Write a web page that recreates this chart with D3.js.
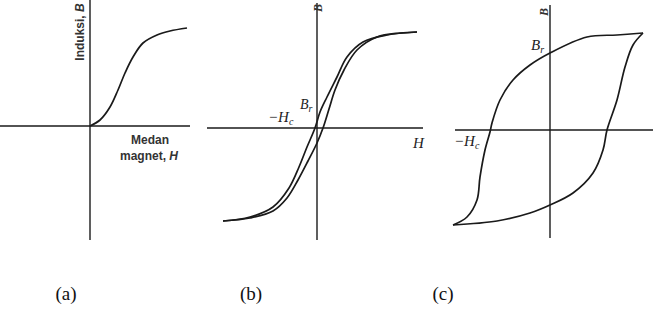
<!DOCTYPE html>
<html>
<head>
<meta charset="utf-8">
<script src="https://cdn.jsdelivr.net/npm/d3@7"></script>
<style>
  body { margin: 0; background: #fff; }
  svg { display: block; }
</style>
</head>
<body>
<svg id="chart" width="661" height="328"></svg>
<script>
// hysteresis figure: (a) magnetisation curve, (b) soft loop, (c) hard loop

// (a) initial magnetisation curve, [H, B]
const curveA = [[0, 0], [0.10, 0.06], [0.20, 0.19], [0.28, 0.36], [0.35, 0.53],
  [0.43, 0.69], [0.53, 0.83], [0.67, 0.91], [0.80, 0.95], [0.97, 0.98]];

// (b) narrow loop
const upperB = [[1.00, 0.96], [0.70, 0.93], [0.46, 0.86], [0.30, 0.71], [0.20, 0.51],
  [0.10, 0.31], [0.03, 0.16], [-0.02, 0], [-0.10, -0.19], [-0.18, -0.39],
  [-0.28, -0.60], [-0.44, -0.79], [-0.67, -0.89], [-0.94, -0.93]];
const lowerB = [[-0.94, -0.93], [-0.67, -0.90], [-0.44, -0.83], [-0.30, -0.70],
  [-0.19, -0.52], [-0.09, -0.33], [0, -0.15], [0.06, 0], [0.12, 0.19], [0.18, 0.38],
  [0.27, 0.58], [0.40, 0.78], [0.60, 0.91], [0.83, 0.95], [1.00, 0.96]];

// (c) wide loop
const upperC = [[0.93, 0.97], [0.67, 0.95], [0.37, 0.93], [0, 0.77], [-0.20, 0.65],
  [-0.37, 0.50], [-0.50, 0.30], [-0.58, 0.07], [-0.60, -0.02], [-0.65, -0.20],
  [-0.70, -0.47], [-0.73, -0.70], [-0.83, -0.87], [-0.97, -0.95]];
const lowerC = [[-0.97, -0.95], [-0.53, -0.91], [-0.20, -0.83], [0, -0.75],
  [0.23, -0.63], [0.43, -0.43], [0.53, -0.20], [0.57, 0], [0.67, 0.30],
  [0.75, 0.63], [0.83, 0.85], [0.93, 0.97]];

const panelLabels = ["(a)", "(b)", "(c)"];

const svg = d3.select("#chart");
const ink = "#1a1a1a";

const panels = [
  { // (a)
    x: d3.scaleLinear().domain([0, 1]).range([90, 190]),
    y: d3.scaleLinear().domain([0, 1]).range([126, 26]),
    hExt: [-0.9, 1.0], bExt: [-1.14, 1.26],
    curves: [curveA], caption: 66
  },
  { // (b)
    x: d3.scaleLinear().domain([-1, 1]).range([217, 417]),
    y: d3.scaleLinear().domain([-1, 1]).range([228, 28]),
    hExt: [-1.1, 1.06], bExt: [-1.12, 1.25],
    curves: [upperB, lowerB], caption: 251
  },
  { // (c)
    x: d3.scaleLinear().domain([-1, 1]).range([450, 650]),
    y: d3.scaleLinear().domain([-1, 1]).range([230, 30]),
    hExt: [-0.95, 1.03], bExt: [-1.08, 1.25],
    curves: [upperC, lowerC], caption: 443
  }
];

panels.forEach((p, i) => {
  const g = svg.append("g");
  // axes
  g.append("line")
    .attr("x1", p.x(p.hExt[0])).attr("x2", p.x(p.hExt[1]))
    .attr("y1", p.y(0)).attr("y2", p.y(0))
    .attr("stroke", ink).attr("stroke-width", 1.4);
  g.append("line")
    .attr("x1", p.x(0)).attr("x2", p.x(0))
    .attr("y1", p.y(p.bExt[0])).attr("y2", p.y(p.bExt[1]))
    .attr("stroke", ink).attr("stroke-width", 1.4);

  const line = d3.line()
    .x((d) => p.x(d[0]))
    .y((d) => p.y(d[1]))
    .curve(d3.curveCatmullRom.alpha(0.5));

  g.selectAll("path.curve")
    .data(p.curves)
    .join("path")
    .attr("class", "curve")
    .attr("d", line)
    .attr("fill", "none")
    .attr("stroke", ink)
    .attr("stroke-width", 1.7);

  svg.append("text")
    .attr("x", p.caption).attr("y", 300)
    .attr("text-anchor", "middle")
    .attr("font-family", "Liberation Serif, serif")
    .attr("font-size", 19)
    .attr("fill", "#111")
    .text(panelLabels[i]);
});

// (a) labels
const pa = panels[0];
const ind = svg.append("text")
  .attr("transform", `translate(${pa.x(0) - 6},${pa.y(0.94)}) rotate(-90)`)
  .attr("text-anchor", "middle")
  .attr("font-family", "Liberation Sans, sans-serif")
  .attr("font-weight", "bold")
  .attr("font-size", 12)
  .attr("fill", "#333");
ind.append("tspan").text("Induksi, ");
ind.append("tspan").attr("font-style", "italic").text("B");
svg.append("text")
  .attr("x", 150).attr("y", 144)
  .attr("text-anchor", "middle")
  .attr("font-family", "Liberation Sans, sans-serif")
  .attr("font-weight", "bold")
  .attr("font-size", 12)
  .attr("fill", "#333")
  .text("Medan");
const mag = svg.append("text")
  .attr("x", 149).attr("y", 160)
  .attr("text-anchor", "middle")
  .attr("font-family", "Liberation Sans, sans-serif")
  .attr("font-weight", "bold")
  .attr("font-size", 12)
  .attr("fill", "#333");
mag.append("tspan").text("magnet, ");
mag.append("tspan").attr("font-style", "italic").text("H");

// serif labels with subscripts
function subLabel(x, y, main, sub, size) {
  const t = svg.append("text")
    .attr("x", x).attr("y", y)
    .attr("font-family", "Liberation Serif, serif")
    .attr("font-style", "italic")
    .attr("font-size", size || 14)
    .attr("fill", "#222");
  t.append("tspan").text(main);
  if (sub) t.append("tspan").attr("dy", 3).attr("font-size", 10).text(sub);
}

function topB(x, y) {
  svg.append("text")
    .attr("transform", `translate(${x},${y}) rotate(-90)`)
    .attr("text-anchor", "middle")
    .attr("dominant-baseline", "central")
    .attr("font-family", "Liberation Serif, serif")
    .attr("font-style", "italic")
    .attr("font-weight", "bold")
    .attr("font-size", 12)
    .attr("fill", "#333")
    .text("B");
}

// (b) labels
const pb = panels[1];
topB(pb.x(0) + 1, pb.y(1.2));
subLabel(pb.x(-0.17), pb.y(0.19), "B", "r");
subLabel(pb.x(-0.49), pb.y(0.06), "\u2212H", "c", 15);
subLabel(pb.x(0.96), pb.y(-0.2), "H", null, 15);

// (c) labels
const pc = panels[2];
topB(pc.x(0) - 6, pc.y(1.18));
subLabel(pc.x(-0.19), pc.y(0.8), "B", "r", 15);
subLabel(pc.x(-0.96), pc.y(-0.16), "\u2212H", "c", 15);
</script>
</body>
</html>
